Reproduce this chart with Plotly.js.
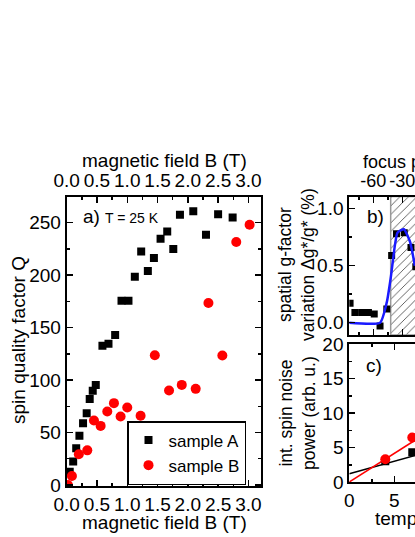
<!DOCTYPE html>
<html>
<head>
<meta charset="utf-8">
<script src="https://cdn.plot.ly/plotly-3.0.1.min.js"></script>
<style>
html, body { margin: 0; padding: 0; overflow: hidden; background: #fff; }
#chart { width: 620px; height: 537px; }
</style>
</head>
<body>
<div id="chart"></div>
<script>
// a) spin quality factor vs magnetic field, T = 25 K
var fieldA = [0.05, 0.107, 0.157, 0.21, 0.27, 0.33, 0.38, 0.43, 0.48, 0.59, 0.69, 0.80, 0.905, 1.02, 1.125, 1.23, 1.34, 1.44, 1.55, 1.66, 1.76, 1.87, 2.09, 2.30, 2.50, 2.74];
var qualityA = [12.7, 22.3, 35, 46.8, 58.9, 68.4, 82, 89.7, 95.4, 132.6, 134.5, 143, 175.6, 175.6, 198.5, 222.6, 204, 216.3, 234.7, 241.7, 224.9, 257.6, 261, 238.5, 258, 255];
var fieldB = [0.02, 0.086, 0.2, 0.34, 0.45, 0.56, 0.67, 0.78, 0.89, 1.0, 1.22, 1.455, 1.69, 1.9, 2.13, 2.34, 2.57, 2.80, 3.02];
var qualityB = [0, 8.6, 29.3, 33, 61.4, 56.3, 70, 78, 65.2, 73.8, 66, 123.7, 90, 95.4, 91.6, 173.4, 123.4, 231.6, 248];

// b) spatial g-factor variation vs focus position
var focusPos = [-84, -79, -72, -65, -59, -53, -46, -41, -36, -28, -21, -16];
var gVar = [0.17, 0.09, 0.09, 0.09, 0.076, -0.03, 0.12, 0.59, 0.78, 0.79, 0.66, 0.49];
var gFitX = [-85, -53, -46, -42, -37.6, -35, -28.3, -22, -17];
var gFitY = [0, 0, 0.18, 0.39, 0.68, 0.79, 0.82, 0.71, 0.5];
var shadeX = [-42, 99];
var shadeY = [-0.108, 1.107];
var focusTicks = [-90, -60, -30, 0, 30, 60, 90];
var focusLabels = ["-90", "-60", "-30", "0", "30", "60", "90"];

// c) integrated spin noise power vs temperature
var tempC = [4, 7];
var noiseA = [3.0, 4.3];
var noiseB = [3.3, 6.45];
var fitT = [0, 21];
var fitA = [1.2, 8.8];
var fitB = [0, 17.4];

var W = 620, H = 537;
function px(x) { return x / W; }
function py(y) { return 1 - y / H; }

var FONT = "Liberation Sans, Arial, sans-serif";
var FS = 19;

function minorTicks(d) {
  return {ticks: "inside", ticklen: 3, tickwidth: 1.5, tickcolor: "black", dtick: d};
}

function ax(extra) {
  var base = {
    showline: true, linecolor: "black", linewidth: 2,
    ticks: "inside", ticklen: 6, tickwidth: 1.5, tickcolor: "black",
    showgrid: false, zeroline: false, tickangle: 0,
    tickfont: {size: FS, color: "black", family: FONT},
    fixedrange: true
  };
  return Object.assign(base, extra);
}

var traces = [
  {x: fieldA, y: qualityA, xaxis: "x", yaxis: "y", type: "scatter", mode: "markers", name: "sample A",
   marker: {symbol: "square", size: 8, color: "black"}},
  {x: fieldB, y: qualityB, xaxis: "x", yaxis: "y", type: "scatter", mode: "markers", name: "sample B",
   marker: {symbol: "circle", size: 10, color: "#ff0000"}},
  // invisible copy so the top field axis gets drawn
  {x: fieldA, y: qualityA, xaxis: "x2", yaxis: "y", type: "scatter", mode: "markers", showlegend: false,
   hoverinfo: "skip", marker: {opacity: 0}},

  {x: [shadeX[0], shadeX[1], shadeX[1], shadeX[0], shadeX[0]],
   y: [shadeY[0], shadeY[0], shadeY[1], shadeY[1], shadeY[0]],
   xaxis: "x3", yaxis: "y3", type: "scatter", mode: "lines", fill: "toself", showlegend: false,
   line: {color: "#999999", width: 1.5}, fillcolor: "white",
   fillpattern: {shape: "/", size: 6, solidity: 0.15, fgcolor: "#555555", bgcolor: "white"}},
  {x: focusPos, y: gVar, xaxis: "x3", yaxis: "y3", type: "scatter", mode: "markers", showlegend: false,
   marker: {symbol: "square", size: 7, color: "black"}},
  {x: gFitX, y: gFitY, xaxis: "x3", yaxis: "y3", type: "scatter", mode: "lines", showlegend: false,
   line: {color: "#1a1aff", width: 2.5, shape: "spline", smoothing: 0.5}},
  {x: focusPos, y: gVar, xaxis: "x4", yaxis: "y3", type: "scatter", mode: "markers", showlegend: false,
   hoverinfo: "skip", marker: {opacity: 0}},

  {x: fitT, y: fitA, xaxis: "x5", yaxis: "y5", type: "scatter", mode: "lines", showlegend: false,
   line: {color: "black", width: 1.5}},
  {x: fitT, y: fitB, xaxis: "x5", yaxis: "y5", type: "scatter", mode: "lines", showlegend: false,
   line: {color: "#ff0000", width: 1.5}},
  {x: tempC, y: noiseA, xaxis: "x5", yaxis: "y5", type: "scatter", mode: "markers", showlegend: false,
   marker: {symbol: "square", size: 8, color: "black"}},
  {x: tempC, y: noiseB, xaxis: "x5", yaxis: "y5", type: "scatter", mode: "markers", showlegend: false,
   marker: {symbol: "circle", size: 10, color: "#ff0000"}}
];

function note(text, x, y, size, opts) {
  return Object.assign({
    text: text, xref: "paper", yref: "paper", x: px(x), y: py(y),
    showarrow: false, xanchor: "center", yanchor: "middle",
    font: {size: size, color: "black", family: FONT}
  }, opts || {});
}

var layout = {
  width: W, height: H, autosize: false,
  margin: {l: 0, r: 0, t: 0, b: 0},
  paper_bgcolor: "white", plot_bgcolor: "white",
  font: {family: FONT, color: "black"},
  showlegend: true,
  legend: {x: px(127), y: py(421), xanchor: "left", yanchor: "top",
           bordercolor: "black", borderwidth: 1.5, bgcolor: "white",
           font: {size: 17, color: "black", family: FONT}},

  xaxis: ax({domain: [px(66.7), px(260.5)], range: [0, 3.2], anchor: "y",
             dtick: 0.5, tickformat: ".1f", minor: minorTicks(0.25)}),
  xaxis2: ax({domain: [px(66.7), px(260.5)], range: [0, 3.2], anchor: "y", overlaying: "x", side: "top",
              dtick: 0.5, tickformat: ".1f", minor: minorTicks(0.25)}),
  yaxis: ax({domain: [py(486), py(196.5)], range: [-1, 275], anchor: "x", mirror: "ticks",
             dtick: 50, minor: minorTicks(25)}),

  xaxis3: ax({domain: [px(349.3), px(527)], range: [-84.8, 99], anchor: "y3", showticklabels: false,
              tickvals: focusTicks, minor: minorTicks(15)}),
  xaxis4: ax({domain: [px(349.3), px(527)], range: [-84.8, 99], anchor: "y3", overlaying: "x3", side: "top",
              tickvals: focusTicks, ticktext: focusLabels, minor: minorTicks(15),
              tickfont: {size: 18, color: "black", family: FONT}}),
  yaxis3: ax({domain: [py(335), py(196.5)], range: shadeY, anchor: "x3", mirror: "ticks",
              dtick: 0.5, tickformat: ".1f", minor: minorTicks(0.25)}),

  xaxis5: ax({domain: [px(349.3), px(527)], range: [0, 19.75], anchor: "y5", mirror: "ticks",
              dtick: 5, minor: minorTicks(2.5)}),
  yaxis5: ax({domain: [py(482), py(344)], range: [0, 20], anchor: "x5", mirror: "ticks",
              dtick: 5, minor: minorTicks(2.5)}),

  annotations: [
    note("magnetic field B (T)", 164, 522, FS),
    note("magnetic field B (T)", 164, 160, FS),
    note("spin quality factor Q", 18, 340, FS, {textangle: -90}),
    note("a)", 81, 217, FS, {xanchor: "left"}),
    note("T = 25 K", 103, 218, 14, {xanchor: "left"}),

    note("focus position (µm)", 361, 162, 18, {xanchor: "left"}),
    note("spatial g-factor<br>variation Δg*/g* (%)", 296, 265, 17.5, {textangle: -90}),
    note("b)", 365, 216, FS, {xanchor: "left"}),

    note("int. spin noise<br>power (arb. u.)", 297, 413, 17.5, {textangle: -90}),
    note("c)", 364, 365, FS, {xanchor: "left"}),
    note("temperature T (K)", 372.7, 518, FS, {xanchor: "left"})
  ]
};

Plotly.newPlot("chart", traces, layout, {displayModeBar: false, staticPlot: true});
</script>
</body>
</html>
